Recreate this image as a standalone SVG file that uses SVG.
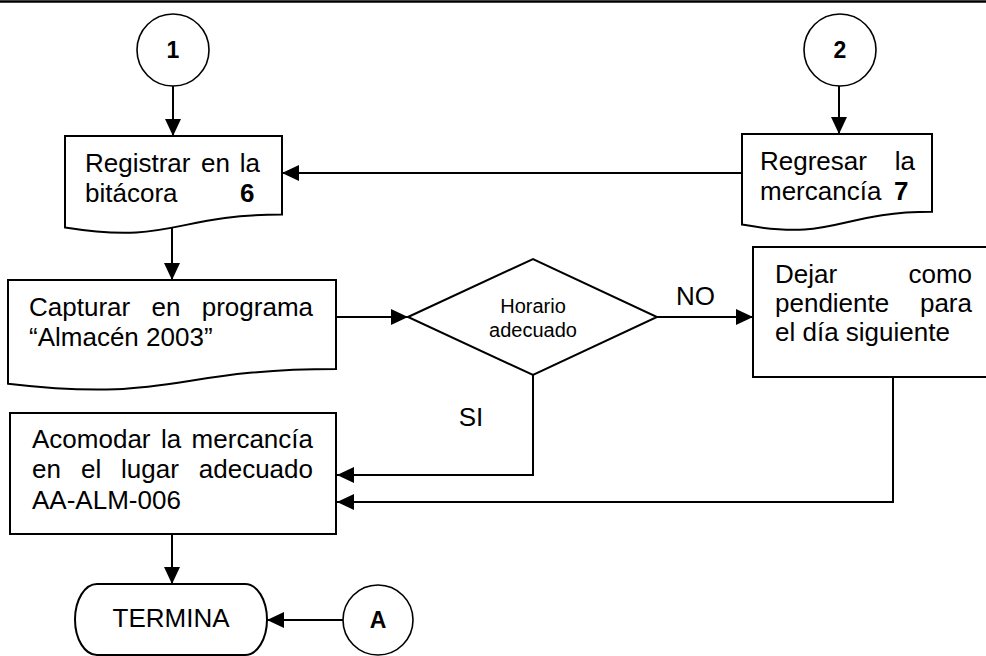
<svg xmlns="http://www.w3.org/2000/svg" width="986" height="656" viewBox="0 0 986 656">
<style>
  .shape { fill: #ffffff; stroke: #000000; stroke-width: 2; }
  .circ { fill: #ffffff; stroke: #000000; stroke-width: 1.6; }
  .conn { fill: none; stroke: #000000; stroke-width: 2; marker-end: url(#arrow); }
  .line { fill: none; stroke: #000000; stroke-width: 2; }
  text { font-family: "Liberation Sans", Arial, sans-serif; fill: #000000; }
  .t { font-size: 26px; }
  .b { font-size: 26px; font-weight: bold; }
  .c { font-size: 23px; font-weight: bold; text-anchor: middle; }
  .d { font-size: 20px; text-anchor: middle; }
  .e { text-anchor: end; }
  .m { text-anchor: middle; }
</style>
<defs>
  <marker id="arrow" markerUnits="userSpaceOnUse" markerWidth="17" markerHeight="16" refX="17" refY="8" orient="auto">
    <path d="M0,0 L17,8 L0,16 Z" fill="#000000"/>
  </marker>
</defs>

<line x1="0" y1="1.5" x2="986" y2="1.5" stroke="#000000" stroke-width="2.5"/>

<g id="connectors">
  <path class="conn" d="M173,86 V136"/>
  <path class="conn" d="M839,86 V134"/>
  <path class="conn" d="M742,173 H282"/>
  <path class="conn" d="M172,228 V280"/>
  <path class="conn" d="M336,317 H408"/>
  <path class="conn" d="M657,317 H753"/>
  <path class="conn" d="M533,375 V475 H337"/>
  <path class="conn" d="M893,377 V502 H337"/>
  <path class="conn" d="M172,534 V584"/>
  <path class="conn" d="M343,620 H267"/>
</g>

<g id="start1">
  <circle class="circ" cx="173" cy="50" r="36"/>
  <text class="c" x="173" y="58">1</text>
</g>

<g id="start2">
  <circle class="circ" cx="840" cy="50" r="36"/>
  <text class="c" x="840" y="58">2</text>
</g>

<g id="registrar">
  <path class="shape" d="M65,136 H282 V214.6 C173.5,214.6 173.5,244.6 65,227.5 Z"/>
  <text class="t" y="172"><tspan x="85">Registrar</tspan><tspan x="201">en</tspan><tspan x="260" text-anchor="end">la</tspan></text>
  <text class="t" x="85" y="202">bitácora</text>
  <text class="b" x="240" y="202">6</text>
</g>

<g id="regresar">
  <path class="shape" d="M742,134 H932 V211.8 C837,211.8 837,241.5 742,224.6 Z"/>
  <text class="t" y="170"><tspan x="760">Regresar</tspan><tspan x="915" text-anchor="end">la</tspan></text>
  <text class="t" x="760" y="200">mercancía</text>
  <text class="b" x="894" y="200">7</text>
</g>

<g id="capturar">
  <path class="shape" d="M8,280 H336 V369 C172,369 172,403 8,383.7 Z"/>
  <text class="t" y="316"><tspan x="29">Capturar</tspan><tspan x="151.5">en</tspan><tspan x="313" text-anchor="end">programa</tspan></text>
  <text class="t" x="29" y="346">“Almacén 2003”</text>
</g>

<g id="decision">
  <path class="shape" d="M408,317 L533,259 L657,317 L533,375 Z"/>
  <text class="d" x="533" y="313">Horario</text>
  <text class="d" x="533" y="337">adecuado</text>
</g>

<g id="label-no">
  <text class="t" x="676" y="305">NO</text>
</g>

<g id="label-si">
  <text class="t m" x="471" y="426">SI</text>
</g>

<g id="dejar">
  <rect class="shape" x="753" y="247" width="260" height="130"/>
  <text class="t" y="283"><tspan x="775">Dejar</tspan><tspan x="972" text-anchor="end">como</tspan></text>
  <text class="t" y="312"><tspan x="775">pendiente</tspan><tspan x="972" text-anchor="end">para</tspan></text>
  <text class="t" x="775" y="341">el día siguiente</text>
</g>

<g id="acomodar">
  <rect class="shape" x="10" y="413" width="326" height="121"/>
  <text class="t" y="448"><tspan x="32">Acomodar</tspan><tspan x="161">la</tspan><tspan x="313" text-anchor="end">mercancía</tspan></text>
  <text class="t" y="478"><tspan x="32">en</tspan><tspan x="81">el</tspan><tspan x="121">lugar</tspan><tspan x="313" text-anchor="end">adecuado</tspan></text>
  <text class="t" x="32" y="509">AA-ALM-006</text>
</g>

<g id="termina">
  <path class="shape" d="M97,584 H245 A22,35.5 0 0 1 245,655 H97 A22,35.5 0 0 1 97,584 Z"/>
  <text class="t m" x="171" y="627">TERMINA</text>
</g>

<g id="connA">
  <circle class="circ" cx="378" cy="620" r="35"/>
  <text class="c" x="378" y="628">A</text>
</g>
</svg>
